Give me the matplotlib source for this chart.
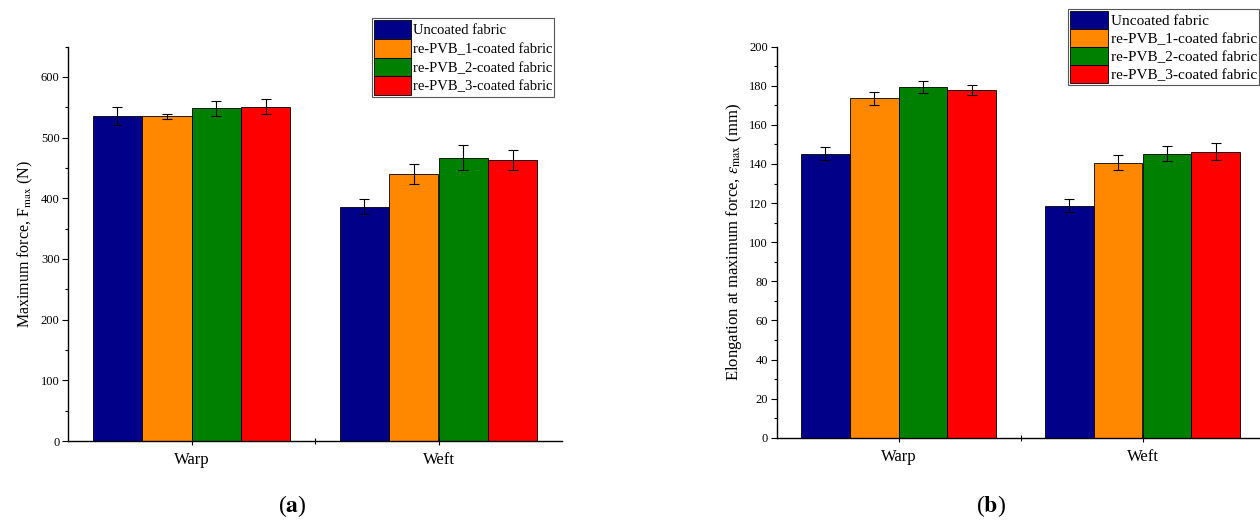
import matplotlib
matplotlib.use("Agg")
import matplotlib.pyplot as plt
import numpy as np
from matplotlib.ticker import MultipleLocator, FixedLocator

plt.rcParams['font.family'] = ['Liberation Serif', 'DejaVu Serif']
plt.rcParams['mathtext.fontset'] = 'stix'

categories = ["Warp", "Weft"]
series = ["Uncoated fabric", "re-PVB_1-coated fabric",
          "re-PVB_2-coated fabric", "re-PVB_3-coated fabric"]
colors = ["#000088", "#FF8800", "#008000", "#FF0000"]

fmax = [[535, 386], [535, 440], [548, 467], [551, 463]]
fmax_err = [[15, 12], [4, 16], [13, 20], [12, 16]]

elong = [[145.3, 118.7], [173.7, 140.7], [179.4, 145.3], [178.0, 146.3]]
elong_err = [[3.4, 3.5], [3.3, 4.0], [3.0, 4.0], [2.5, 4.3]]

fig = plt.figure(figsize=(12.6, 5.21), dpi=100)

W, H = 1260, 521
def rect(x0, x1, ytop, ybot):
    return [x0 / W, 1 - ybot / H, (x1 - x0) / W, (ybot - ytop) / H]

ax1 = fig.add_axes(rect(68, 562, 46.5, 441))
ax2 = fig.add_axes(rect(776.5, 1264.5, 46.7, 437.7))

def draw(ax, vals, errs, ylim, major, minor, ylabel, ylfs, legend_anchor, legfs, hh):
    x = np.arange(1, len(categories) + 1)
    bw = 0.2
    handles = []
    for i, (name, c) in enumerate(zip(series, colors)):
        pos = x - 0.3 + i * bw
        b = ax.bar(pos, vals[i], width=bw, color=c, edgecolor="black",
                   linewidth=0.6, label=name, zorder=2)
        ax.errorbar(pos, vals[i], yerr=errs[i], fmt="none", ecolor="black",
                    elinewidth=0.8, capsize=3.5, capthick=0.8, zorder=3)
        handles.append(b)
    ax.set_xlim(0.5, 2.5)
    ax.set_ylim(*ylim)
    ax.set_xticks(x)
    ax.set_xticklabels(categories, fontsize=12)
    ax.xaxis.set_minor_locator(FixedLocator([1.5]))
    ax.yaxis.set_major_locator(MultipleLocator(major))
    ax.yaxis.set_minor_locator(MultipleLocator(minor))
    ax.tick_params(axis="y", which="major", direction="out", length=4,
                   width=0.8, labelsize=9, pad=2)
    ax.tick_params(axis="y", which="minor", direction="out", length=2.5, width=0.8)
    ax.tick_params(axis="x", which="major", direction="inout", length=6,
                   width=0.8, pad=5)
    ax.tick_params(axis="x", which="minor", direction="inout", length=4, width=0.8)
    for s in ("top", "right"):
        ax.spines[s].set_visible(False)
    for s in ("left", "bottom"):
        ax.spines[s].set_linewidth(1.0)
    ax.set_ylabel(ylabel, fontsize=ylfs, labelpad=4)
    leg = ax.legend(handles=handles, loc="upper left",
                    bbox_to_anchor=legend_anchor, bbox_transform=fig.transFigure,
                    fontsize=legfs, frameon=True, fancybox=False,
                    edgecolor="#555555", framealpha=1, borderpad=0.15,
                    handlelength=2.5, handleheight=hh, handletextpad=0.15,
                    labelspacing=0.0, borderaxespad=0)
    leg.get_frame().set_linewidth(0.8)

draw(ax1, fmax, fmax_err, (0, 650), 100, 50,
     r"Maximum force, F$_{\mathrm{max}}$ (N)", 11.5,
     (372 / W, 1 - 18 / H), 10.5, 1.6)
draw(ax2, elong, elong_err, (0, 200), 20, 10,
     r"Elongation at maximum force, $\varepsilon_{\mathrm{max}}$ (mm)", 12,
     (1068 / W, 1 - 9 / H), 11, 1.42)

fig.text(292 / W, 1 - 506 / H, r"($\mathbf{a}$)", ha="center", va="center", fontsize=17)
fig.text(991 / W, 1 - 506 / H, r"($\mathbf{b}$)", ha="center", va="center", fontsize=17)

fig.savefig("out.png", dpi=100)
